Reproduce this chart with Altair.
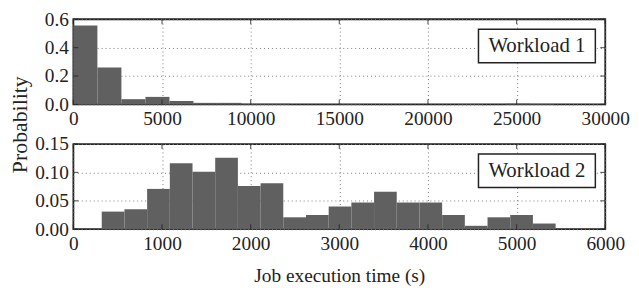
import altair as alt
import pandas as pd

# ---- data ----
w1_prob = [0.555, 0.26, 0.037, 0.053, 0.024, 0.011, 0.011, 0.004, 0.004, 0.0,
           0.0, 0.002, 0.0, 0.0, 0.0, 0.0, 0.002, 0.0, 0.005, 0.003]
w1_first_edge = 0
w1_bin_width = 1355

w2_prob = [0.031, 0.035, 0.071, 0.116, 0.101, 0.126, 0.076, 0.081, 0.021, 0.025,
           0.040, 0.047, 0.066, 0.047, 0.047, 0.025, 0.006, 0.021, 0.025, 0.010]
w2_first_edge = 320
w2_bin_width = 256

w1_xticks = [0, 5000, 10000, 15000, 20000, 25000, 30000]
w1_yticks = [0.0, 0.2, 0.4, 0.6]
w2_xticks = [0, 1000, 2000, 3000, 4000, 5000, 6000]
w2_yticks = [0.0, 0.05, 0.10, 0.15]
panel_labels = ["Workload 1", "Workload 2"]
x_title = "Job execution time (s)"
y_title = "Probability"

FONT = "Liberation Serif"
INK = "#222222"
BAR = "#606060"
W, H = 537, 86


def panel(probs, first, width, xticks, yticks, yfmt, label, xtitle, ytitle):
    lo = [first + i * width for i in range(len(probs))]
    hi = [first + (i + 1) * width for i in range(len(probs))]
    df = pd.DataFrame({"lo": lo, "hi": hi, "p": probs, "base": [0.0] * len(probs)})
    xs = alt.Scale(domain=[xticks[0], xticks[-1]], nice=False, zero=False)
    ys = alt.Scale(domain=[yticks[0], yticks[-1]], nice=False)

    xaxis_kw = dict(values=xticks, format="d", labelFlush=False, labelOverlap=False,
                    labelPadding=5)
    if xtitle:
        xaxis_kw.update(title=xtitle, titlePadding=14)
    else:
        xaxis_kw.update(title=None)
    yaxis_kw = dict(values=yticks, format=yfmt, labelFlush=False, labelOverlap=False,
                    labelPadding=5, tickCount=len(yticks))
    if ytitle:
        yaxis_kw.update(title=ytitle, titleX=-54, titleY=106, titleAngle=270,
                        titleBaseline="middle", titleAlign="center", titleFontSize=22)
    else:
        yaxis_kw.update(title=None)

    bars = alt.Chart(df).mark_rect(color=BAR, strokeWidth=0).encode(
        x=alt.X("lo:Q", scale=xs, axis=alt.Axis(**xaxis_kw)),
        x2="hi:Q",
        y=alt.Y("p:Q", scale=ys, axis=alt.Axis(**yaxis_kw)),
        y2="base:Q",
    )
    tdf = pd.DataFrame({"lo": xticks})
    ydf = pd.DataFrame({"p": yticks})
    tick_kw = dict(color=INK, thickness=1.2, size=5)
    xt_top = alt.Chart(tdf).mark_tick(**tick_kw).encode(
        x=alt.X("lo:Q", scale=xs), y=alt.value(2.5))
    xt_bot = alt.Chart(tdf).mark_tick(**tick_kw).encode(
        x=alt.X("lo:Q", scale=xs), y=alt.value(H - 2.5))
    yt_l = alt.Chart(ydf).mark_tick(**tick_kw).encode(
        y=alt.Y("p:Q", scale=ys), x=alt.value(2.5))
    yt_r = alt.Chart(ydf).mark_tick(**tick_kw).encode(
        y=alt.Y("p:Q", scale=ys), x=alt.value(W - 2.5))

    ldf = pd.DataFrame({"t": [label]})
    box = alt.Chart(ldf).mark_rect(fill="white", stroke=INK, strokeWidth=1.5).encode(
        x=alt.value(W - 128), x2=alt.value(W - 10), y=alt.value(10), y2=alt.value(44))
    txt = alt.Chart(ldf).mark_text(font=FONT, fontSize=21, color=INK, align="center",
                                   baseline="middle").encode(
        x=alt.value(W - 69), y=alt.value(27.5), text="t:N")

    return alt.layer(bars, box, txt, xt_top, xt_bot, yt_l, yt_r).properties(
        width=W, height=H)


top = panel(w1_prob, w1_first_edge, w1_bin_width, w1_xticks, w1_yticks, ".1f",
            panel_labels[0], None, y_title)
bottom = panel(w2_prob, w2_first_edge, w2_bin_width, w2_xticks, w2_yticks, ".2f",
               panel_labels[1], x_title, None)

chart = alt.vconcat(top, bottom, spacing=40, bounds="flush").properties(
    padding={"left": 0, "top": -1, "right": 0, "bottom": 0}
).configure_view(
    stroke=INK, strokeWidth=1.8
).configure_axis(
    grid=True, gridDash=[1, 3], gridColor="#7a7a7a", gridWidth=1,
    ticks=False, domain=False,
    labelFont=FONT, labelFontSize=19.5, labelColor=INK,
    titleFont=FONT, titleFontSize=19.5, titleColor=INK, titleFontWeight="normal",
)

chart.save("out.html", embed_options={"renderer": "svg", "actions": False})
